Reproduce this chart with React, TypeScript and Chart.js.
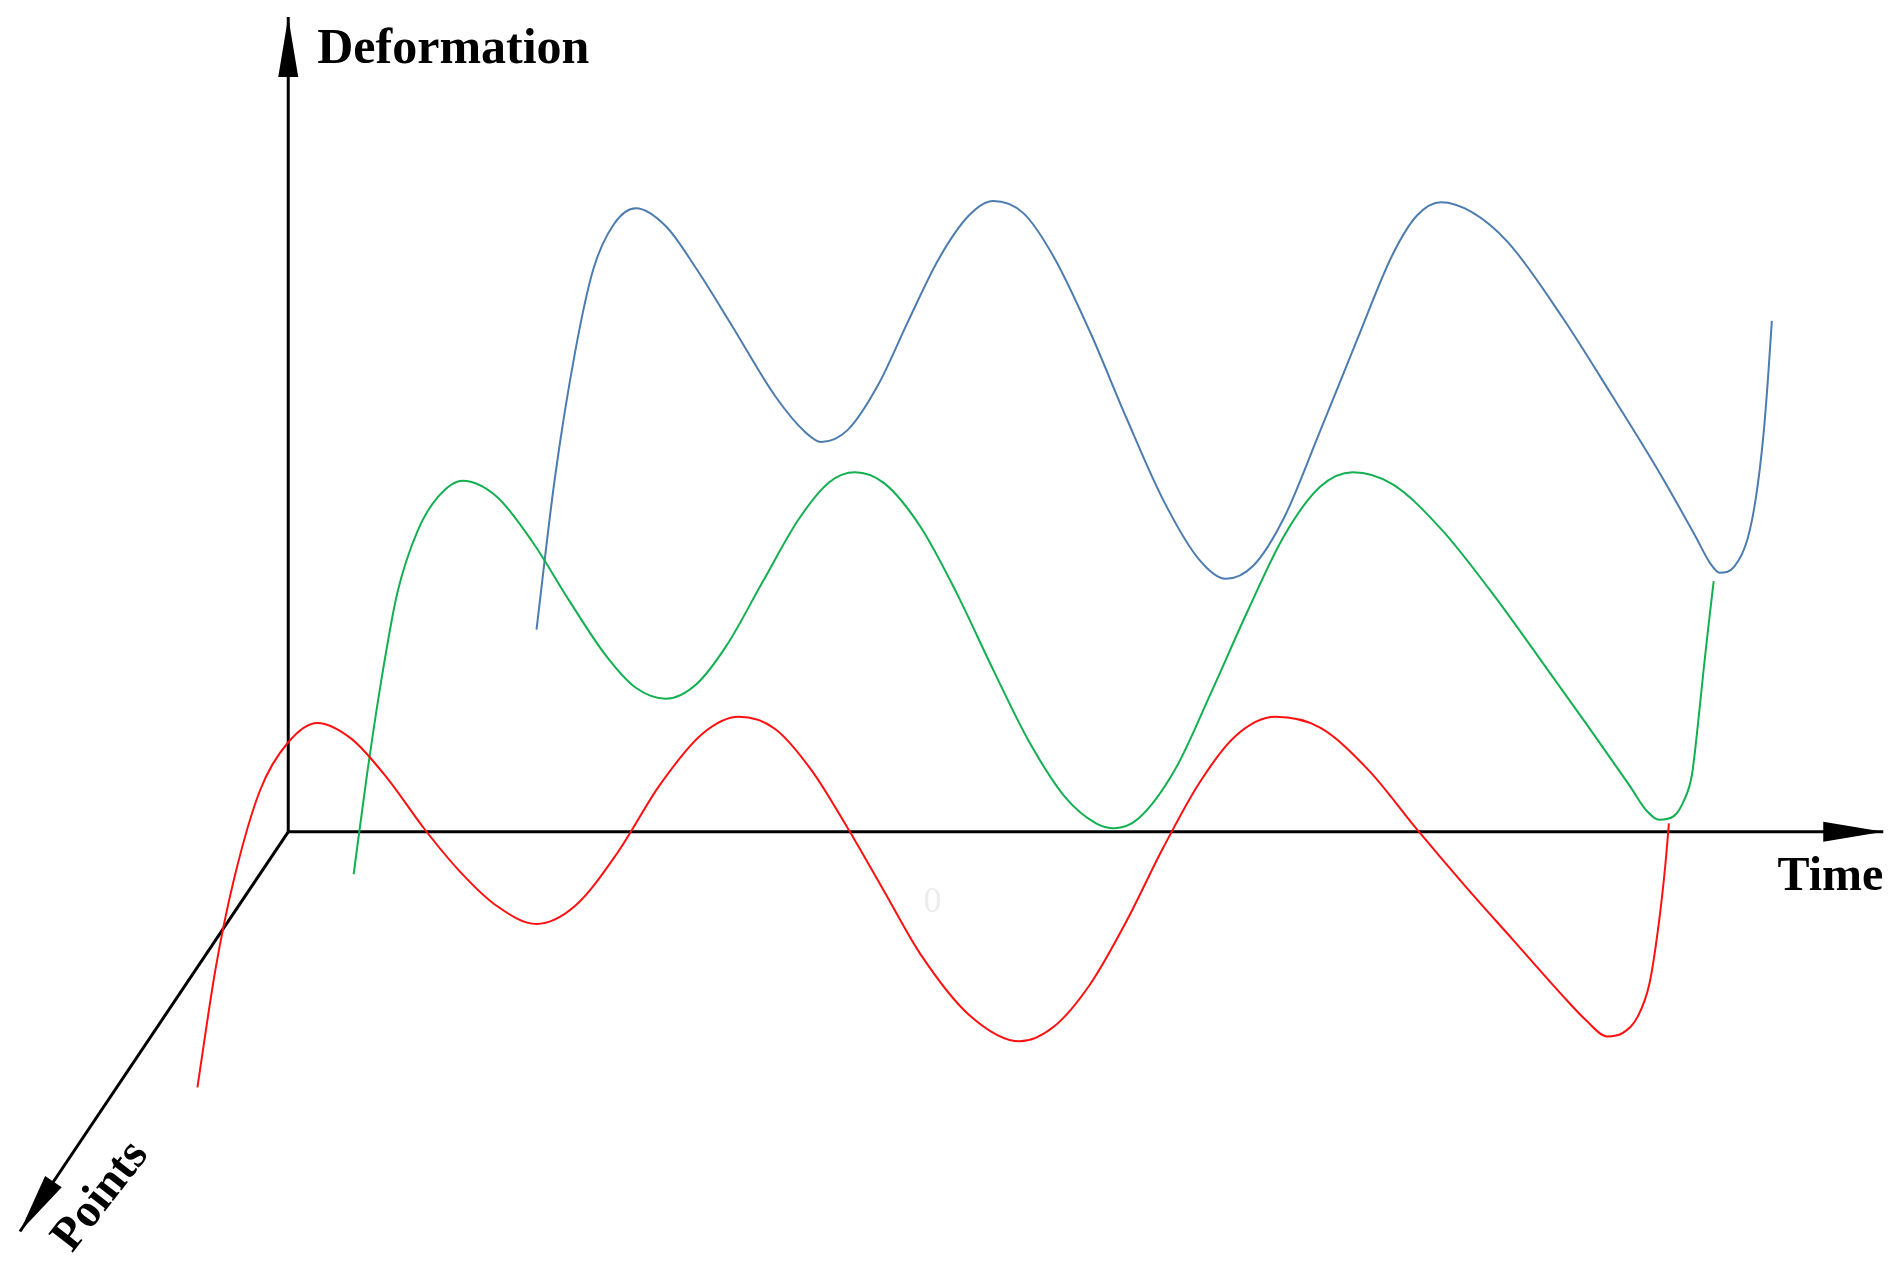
import React, { useEffect, useRef } from "react";
import { Chart, registerables } from "chart.js";

Chart.register(...registerables);

// Data space: time to the right of the origin, deformation above it.
const TIME_RANGE = [-238, 1330];
const DEFORMATION_RANGE = [-361, 687];

const redTime = [-75, -60, -45, -23, 0, 24, 52, 82, 112, 142, 172, 205, 237, 272, 307, 342, 372, 402, 432, 462, 492, 522, 562, 604, 632, 662, 692, 722, 752, 782, 815, 852, 892, 932, 972, 1012, 1052, 1072, 1089, 1102, 1114, 1124, 1132, 1137, 1140];
const redDeformation = [-211, -113, -40, 35, 74, 90, 77, 44, 3, -33, -61, -76, -61, -17, 39, 81, 95, 85, 51, 3, -49, -101, -151, -173, -161, -126, -74, -14, 40, 79, 95, 86, 51, 2, -45, -90, -135, -156, -169, -166, -153, -125, -73, -28, 7];

const greenTime = [54, 65, 76, 90, 107, 124, 144, 172, 202, 232, 262, 287, 312, 337, 362, 392, 422, 447, 468, 492, 522, 552, 582, 612, 642, 667, 682, 702, 732, 762, 792, 822, 852, 879, 912, 952, 992, 1032, 1072, 1107, 1122, 1132, 1144, 1152, 1159, 1164, 1169, 1173, 1177];
const greenDeformation = [-35, 47, 120, 197, 249, 277, 290, 277, 239, 191, 146, 119, 110, 122, 154, 207, 259, 289, 297, 288, 252, 197, 134, 74, 28, 7, 3, 11, 51, 115, 182, 244, 285, 297, 287, 250, 200, 145, 89, 39, 17, 10, 13, 25, 47, 89, 137, 173, 207];

const blueTime = [205, 220, 237, 252, 269, 287, 312, 337, 367, 402, 427, 440, 462, 487, 512, 537, 562, 582, 607, 632, 662, 692, 722, 752, 774, 797, 822, 852, 882, 912, 932, 952, 977, 1007, 1052, 1092, 1132, 1162, 1174, 1182, 1194, 1205, 1212, 1218, 1222, 1225];
const blueDeformation = [167, 291, 397, 465, 502, 515, 500, 465, 417, 360, 330, 322, 332, 369, 422, 473, 509, 521, 511, 475, 413, 342, 275, 225, 209, 220, 259, 331, 405, 477, 509, 520, 512, 487, 425, 362, 297, 244, 222, 214, 219, 242, 277, 327, 377, 422];

// Axes (start at origin, end at arrow tip)
const timeAxisT = [0, 1317];
const timeAxisD = [0, 0];
const deformationAxisT = [0, 0];
const deformationAxisD = [0, 673];
const pointsAxisT = [0, -221.5];
const pointsAxisD = [0, -330];

const axisLabels = ["Deformation", "Time", "Points"];
const faintLabel = "0";
const faintLabelPos = [532, -58];

const pts = (xs: number[], ys: number[]) => xs.map((x, i) => ({ x, y: ys[i] }));

const FONT = "'Liberation Serif', 'Times New Roman', serif";

const arrowPlugin = {
  id: "axisArrows",
  afterDatasetsDraw(chart: any) {
    const ctx = chart.ctx;
    chart.data.datasets.forEach((ds: any, i: number) => {
      if (!ds.isAxis) return;
      const data = chart.getDatasetMeta(i).data;
      const a = data[0];
      const b = data[data.length - 1];
      const ang = Math.atan2(b.y - a.y, b.x - a.x);
      const L = 60;
      const W = 10;
      ctx.save();
      ctx.translate(b.x, b.y);
      ctx.rotate(ang);
      ctx.beginPath();
      ctx.moveTo(0, 0);
      ctx.lineTo(-L, -W);
      ctx.lineTo(-L, W);
      ctx.closePath();
      ctx.fillStyle = "#000";
      ctx.fill();
      ctx.restore();
    });
  },
};

const labelPlugin = {
  id: "axisLabels",
  afterDraw(chart: any) {
    const { ctx, scales } = chart;
    const x = scales.x;
    const y = scales.y;
    const ox = x.getPixelForValue(0);
    const oy = y.getPixelForValue(0);
    ctx.save();
    ctx.fillStyle = "#000";
    ctx.textBaseline = "alphabetic";

    // Deformation
    ctx.font = `bold 50px ${FONT}`;
    ctx.textAlign = "left";
    const topY = y.getPixelForValue(deformationAxisD[1]);
    ctx.fillText(axisLabels[0], ox + 29, topY + 46);

    // Time
    ctx.font = `bold 48px ${FONT}`;
    ctx.textAlign = "right";
    const rightX = x.getPixelForValue(timeAxisT[1]);
    ctx.fillText(axisLabels[1], rightX, oy + 58);

    // Points (rotated)
    const px = x.getPixelForValue(pointsAxisT[1]);
    const py = y.getPixelForValue(pointsAxisD[1]);
    ctx.save();
    ctx.translate(px + 52, py + 22);
    ctx.rotate((-52 * Math.PI) / 180);
    ctx.font = `bold 47px ${FONT}`;
    ctx.textAlign = "left";
    ctx.fillText(axisLabels[2], 0, 0);
    ctx.restore();

    // faint 0
    ctx.font = `36px ${FONT}`;
    ctx.fillStyle = "#ededed";
    ctx.textAlign = "center";
    ctx.textBaseline = "middle";
    ctx.fillText(faintLabel, x.getPixelForValue(faintLabelPos[0]), y.getPixelForValue(faintLabelPos[1]));
    ctx.restore();
  },
};

export default function App() {
  const ref = useRef<HTMLCanvasElement | null>(null);

  useEffect(() => {
    if (!ref.current) return;
    const curve = (label: string, xs: number[], ys: number[], color: string) => ({
      label,
      data: pts(xs, ys),
      showLine: true,
      borderColor: color,
      backgroundColor: color,
      borderWidth: 2,
      pointRadius: 0,
      cubicInterpolationMode: "monotone" as const,
      fill: false,
    });
    const axis = (label: string, xs: number[], ys: number[]) => ({
      label,
      isAxis: true,
      data: pts(xs, ys),
      showLine: true,
      borderColor: "#000",
      backgroundColor: "#000",
      borderWidth: 3,
      pointRadius: 0,
      tension: 0,
      fill: false,
    });
    const chart = new Chart(ref.current, {
      type: "scatter",
      data: {
        datasets: [
          curve("Point 1", redTime, redDeformation, "#ff1010"),
          curve("Point 2", greenTime, greenDeformation, "#12b050"),
          curve("Point 3", blueTime, blueDeformation, "#4d7cb0"),
          axis("Time axis", timeAxisT, timeAxisD),
          axis("Deformation axis", deformationAxisT, deformationAxisD),
          axis("Points axis", pointsAxisT, pointsAxisD),
        ] as any,
      },
      options: {
        animation: false,
        responsive: false,
        maintainAspectRatio: false,
        devicePixelRatio: 1,
        layout: { padding: 0 },
        plugins: {
          legend: { display: false },
          tooltip: { enabled: false },
        },
        scales: {
          x: { type: "linear", display: false, min: TIME_RANGE[0], max: TIME_RANGE[1] },
          y: { type: "linear", display: false, min: DEFORMATION_RANGE[0], max: DEFORMATION_RANGE[1] },
        },
      },
      plugins: [arrowPlugin, labelPlugin],
    });
    return () => chart.destroy();
  }, []);

  return (
    <div style={{ position: "absolute", left: 0, top: 0, width: 1899, height: 1269, background: "#fff" }}>
      <canvas ref={ref} width={1899} height={1269} style={{ display: "block" }} />
    </div>
  );
}
